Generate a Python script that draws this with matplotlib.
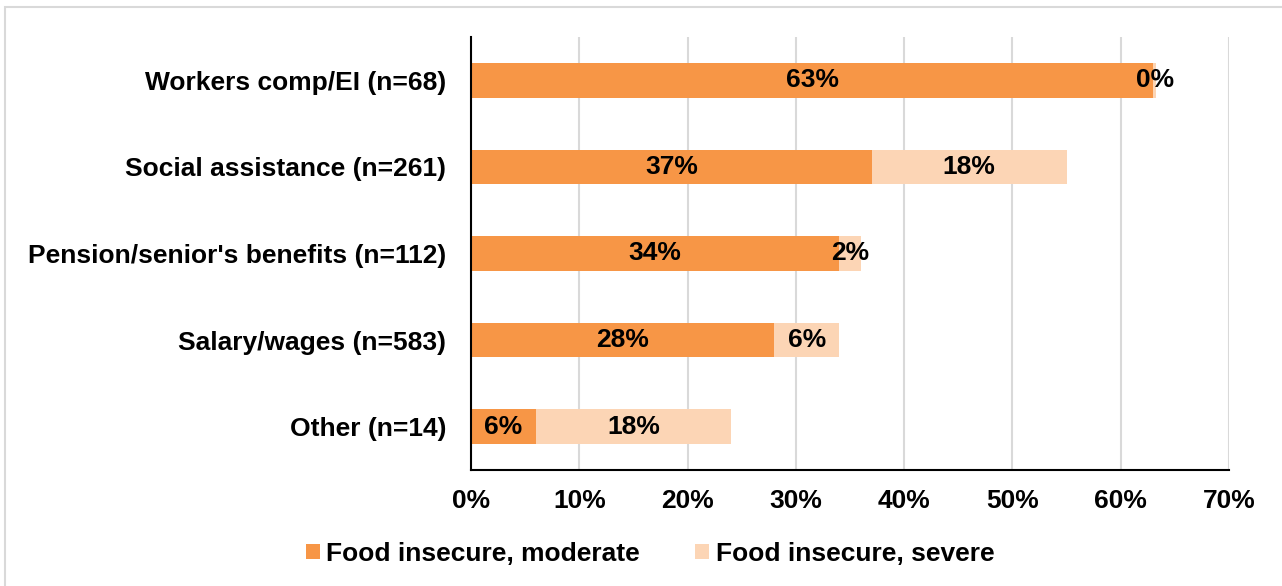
import numpy as np
import matplotlib.pyplot as plt
from matplotlib.patches import Rectangle

plt.rcParams['font.family'] = ['Liberation Sans', 'DejaVu Sans']
plt.rcParams['font.weight'] = 'bold'

categories = ["Workers comp/EI (n=68)", "Social assistance (n=261)",
              "Pension/senior's benefits (n=112)", "Salary/wages (n=583)",
              "Other (n=14)"]
moderate = [63, 37, 34, 28, 6]
severe = [0.3, 18, 2, 6, 18]
series_names = ["Food insecure, moderate", "Food insecure, severe"]
colors = ["#F79646", "#FCD5B5"]
xticks = [0, 10, 20, 30, 40, 50, 60, 70]

fig = plt.figure(figsize=(12.82, 5.86), dpi=100)
ax = fig.add_axes([471/1282, 116/586, 758/1282, 433/586])

# light frame round the whole chart
fig.patches.append(Rectangle((5/1282, -0.01), 1.0, 1 - 7/586 + 0.01,
                             transform=fig.transFigure, fill=False,
                             edgecolor="#D9D9D9", linewidth=1.5))

y = np.arange(len(categories))
b1 = ax.barh(y, moderate, height=0.4, color=colors[0], label=series_names[0], zorder=3)
b2 = ax.barh(y, severe, left=moderate, height=0.4, color=colors[1], label=series_names[1], zorder=3)

fs = 19
for bars, vals, lefts in [(b1, moderate, [0]*5), (b2, severe, moderate)]:
    for i, (v, l) in enumerate(zip(vals, lefts)):
        ax.text(l + v/2, y[i], f"{round(v):.0f}%", ha="center", va="center",
                fontsize=fs, fontweight="bold", color="black", zorder=4)

ax.set_ylim(len(categories) - 0.5, -0.5)
ax.set_yticks(y)
ax.set_yticklabels(categories, fontsize=fs, fontweight="bold")
ax.set_xlim(0, 70)
ax.set_xticks(xticks)
ax.set_xticklabels([f"{t}%" for t in xticks], fontsize=fs, fontweight="bold")
ax.tick_params(axis="both", length=0)
ax.tick_params(axis="x", pad=14)
ax.tick_params(axis="y", pad=18)

ax.grid(axis="x", color="#D9D9D9", linewidth=1.5, zorder=0)
for s in ["top", "right"]:
    ax.spines[s].set_visible(False)
for s in ["left", "bottom"]:
    ax.spines[s].set_linewidth(1.5)
    ax.spines[s].set_color("black")
    ax.spines[s].set_zorder(5)

leg = fig.legend(handles=[b1, b2], loc="center", bbox_to_anchor=(650/1282, 1 - 554/586),
                 ncol=2, frameon=False, handlelength=0.53, handleheight=0.53,
                 handletextpad=0.25, columnspacing=2.1, borderpad=0,
                 prop={"weight": "bold", "size": fs})

fig.savefig("out.png", dpi=100)
